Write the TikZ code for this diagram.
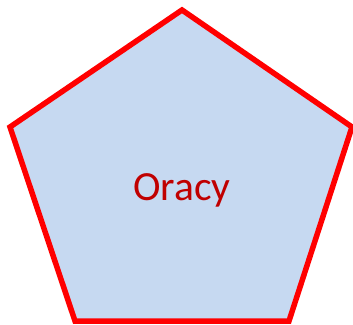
\documentclass[tikz,border=0pt]{standalone}
\usepackage{fontspec}
\setmainfont{Carlito}
\definecolor{pentfill}{HTML}{C6D9F1}
\definecolor{pentline}{HTML}{FF0000}
\definecolor{labeltext}{HTML}{C00000}
\begin{document}
\begin{tikzpicture}[x=1pt,y=-1pt,
  pent/.style={draw=pentline,fill=pentfill,line width=5.5pt,line join=miter},
  lbl/.style={text=labeltext,font=\fontsize{41.5}{50}\selectfont,inner sep=0pt,anchor=base}]
\useasboundingbox (0,0) rectangle (353,324);
\coordinate (t) at (182,10);
\coordinate (r) at (352,127);
\coordinate (br) at (289,321);
\coordinate (bl) at (75,321);
\coordinate (l) at (10,127);
\draw[pent] (t) -- (r) -- (br) -- (bl) -- (l) -- cycle;
\node[lbl] (label) at (182,200) {Oracy};
\end{tikzpicture}
\end{document}
